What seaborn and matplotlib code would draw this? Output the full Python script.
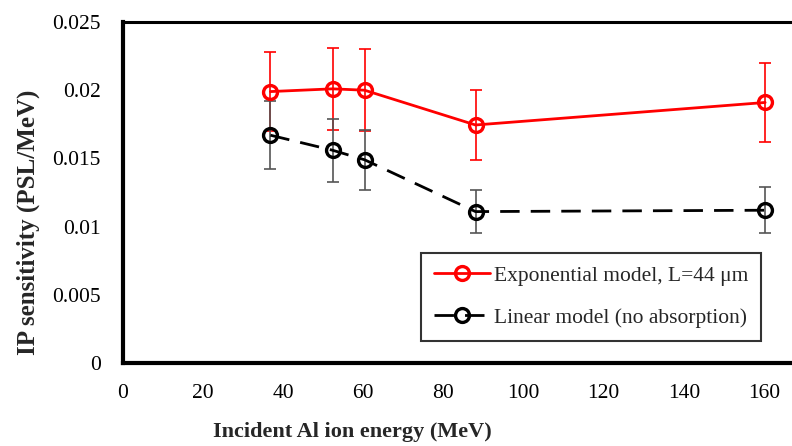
import matplotlib
matplotlib.use('Agg')
import matplotlib.pyplot as plt
import seaborn as sns
import pandas as pd

energy = [36.8, 52.3, 60.3, 88.0, 160.3]
exp_sens = [0.0199, 0.0201, 0.0200, 0.01745, 0.0191]
exp_err = [0.0029, 0.0030, 0.0030, 0.0026, 0.0029]
lin_sens = [0.0167, 0.0156, 0.0149, 0.0111, 0.0112]
lin_err = [0.0025, 0.0023, 0.0022, 0.0016, 0.0017]
xticks = [0, 20, 40, 60, 80, 100, 120, 140, 160]
yticks = [0, 0.005, 0.01, 0.015, 0.02, 0.025]
ytick_labels = ['0', '0.005', '0.01', '0.015', '0.02', '0.025']
label_exp = 'Exponential model, L=44 μm'
label_lin = 'Linear model (no absorption)'

sns.set_style('white')
plt.rcParams['font.family'] = ['Liberation Serif', 'DejaVu Serif']

df = pd.DataFrame({
    'energy': energy * 2,
    'sens': exp_sens + lin_sens,
    'model': [label_exp] * len(energy) + [label_lin] * len(energy),
})

fig = plt.figure(figsize=(7.92, 4.46), dpi=100)
ax = fig.add_axes([123 / 792, 83 / 446, 669 / 792, 341 / 446])

# error bars
for ys, es, col, z in [(exp_sens, exp_err, '#ff0000', 2), (lin_sens, lin_err, '#555555', 3)]:
    eb = ax.errorbar(energy, ys, yerr=es, fmt='none', ecolor=col,
                     elinewidth=1.2, capsize=4, capthick=1.2, zorder=z)
    for cap in eb[1]:
        cap.set_color(col)
        cap.set_markeredgecolor(col)
        cap.set_markerfacecolor(col)
    for bl in eb[2]:
        bl.set_color(col)

sns.lineplot(data=df, x='energy', y='sens', hue='model', style='model',
             palette={label_exp: '#ff0000', label_lin: '#000000'},
             dashes={label_exp: '', label_lin: (7, 4)},
             markers={label_exp: 'o', label_lin: 'o'},
             markersize=10, markerfacecolor='none', markeredgewidth=2.4,
             linewidth=2.0, ax=ax, zorder=4, legend=True)
for ln in ax.lines:
    ln.set_markerfacecolor('none')
    ln.set_markeredgecolor(ln.get_color())

ax.set_xlim(0, 167.0)
ax.set_ylim(0, 0.025)
ax.set_xticks(xticks)
ax.set_xticklabels([str(t) for t in xticks], fontsize=15.5)
ax.set_yticks(yticks)
ax.set_yticklabels(ytick_labels, fontsize=15.5)
ax.tick_params(axis='x', direction='in', length=6, width=1.5, pad=15, colors='black')
ax.tick_params(axis='y', direction='out', length=5, width=1.5, pad=11, colors='black')

for s in ['left', 'bottom']:
    ax.spines[s].set_linewidth(3)
    ax.spines[s].set_color('black')
ax.spines['top'].set_linewidth(2.2)
ax.spines['top'].set_color('black')
ax.spines['right'].set_visible(False)

ax.set_xlabel('Incident Al ion energy (MeV)', fontsize=16, fontweight='bold')
ax.set_ylabel('IP sensitivity (PSL/MeV)', fontsize=18, fontweight='bold')
ax.xaxis.set_label_coords((352 - 123) / 669, -(422 - 363) / 341)
ax.yaxis.set_label_coords(-(123 - 40) / 669, (363 - 222) / 341)

handles, labels = ax.get_legend_handles_labels()
for h in handles:
    h.set_markerfacecolor('none')
    h.set_markeredgewidth(2.4)
    h.set_markersize(10)
leg = ax.legend(handles, labels, loc='upper left',
                bbox_to_anchor=(421 / 792, 1 - 253 / 446), bbox_transform=fig.transFigure,
                frameon=True, fancybox=False, edgecolor='black', fontsize=15.5,
                handlelength=2.6, handletextpad=0.2, borderpad=0.6,
                labelspacing=1.0, borderaxespad=0)
leg.get_frame().set_linewidth(1.5)

fig.savefig('out.png', dpi=100)
